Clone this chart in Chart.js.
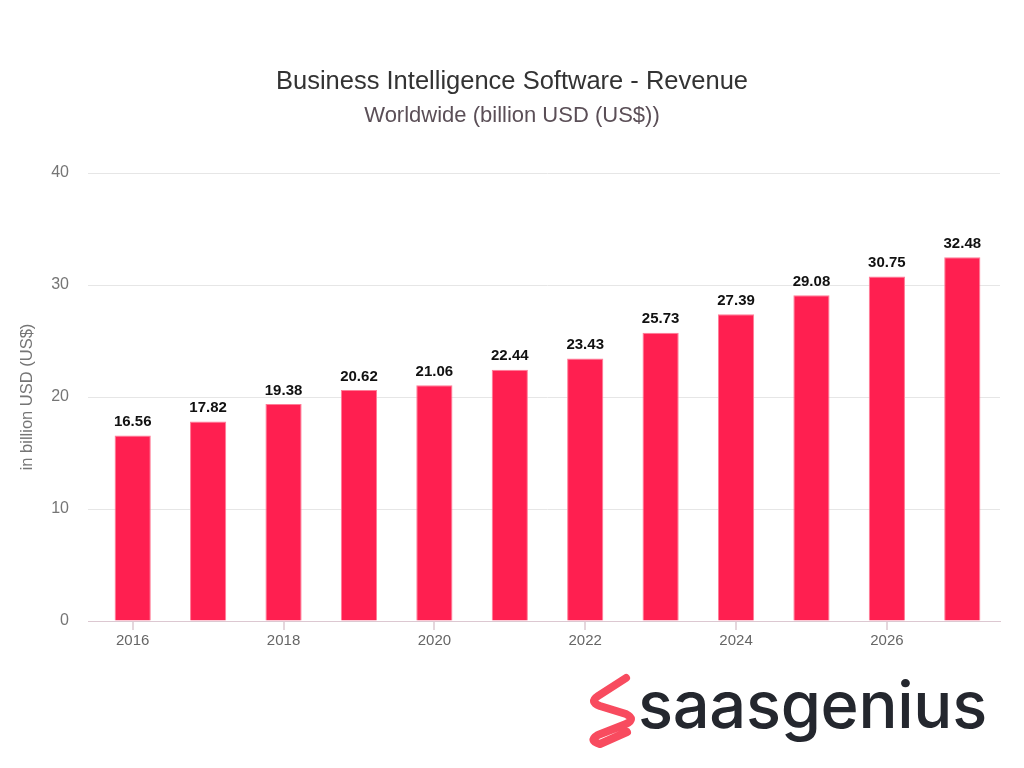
<!DOCTYPE html>
<html>
<head>
<meta charset="utf-8">
<script src="https://cdn.jsdelivr.net/npm/chart.js@4"></script>
<style>
  html, body { margin: 0; padding: 0; background: #fff; }
  #wrap { position: relative; width: 1024px; height: 768px; font-family: "Liberation Sans", Arial, sans-serif; }
  #chart { position: absolute; left: 0; top: 0; }
  .title { position: absolute; left: 0; width: 1024px; text-align: center; line-height: 1; }
  #t1 { top: 68px; font-size: 25.5px; color: #333; }
  #t2 { top: 104px; font-size: 22px; color: #5b4f57; }
  #icon { position: absolute; left: 580px; top: 670px; }
  #logo { position: absolute; left: 638px; top: 665px; font-family: Inter, sans-serif; font-weight: 500; font-size: 65px; line-height: 80px; color: #24272e; letter-spacing: -0.3px; }
</style>
</head>
<body>
<div id="wrap">
  <canvas id="chart" width="1024" height="768"></canvas>
  <div class="title" id="t1">Business Intelligence Software - Revenue</div>
  <div class="title" id="t2">Worldwide (billion USD (US$))</div>
  <svg id="icon" width="60" height="84" viewBox="0 0 60 84">
    <path d="M46 8 L18 26 Q9 32 20 36 L46 44 Q56 49 46 54 L18 65 Q8 71 20 74 L47 62"
          fill="none" stroke="#f84b5f" stroke-width="8" stroke-linecap="round" stroke-linejoin="round"/>
  </svg>
  <div id="logo">saasgenius</div>
</div>
<script>
const years = ["2016", "2017", "2018", "2019", "2020", "2021", "2022", "2023", "2024", "2025", "2026", "2027"];
const revenue = [16.56, 17.82, 19.38, 20.62, 21.06, 22.44, 23.43, 25.73, 27.39, 29.08, 30.75, 32.48];
const yTicks = [0, 10, 20, 30, 40];

const FONT = "'Liberation Sans', Arial, sans-serif";
const AXIS = "#dcc8d1";

// value labels above bars
const valueLabels = {
  id: "valueLabels",
  afterDatasetsDraw(chart) {
    const ctx = chart.ctx;
    const meta = chart.getDatasetMeta(0);
    ctx.save();
    ctx.font = "bold 15px " + FONT;
    ctx.fillStyle = "#111";
    ctx.textAlign = "center";
    ctx.textBaseline = "bottom";
    meta.data.forEach((bar, i) => {
      ctx.fillText(revenue[i].toFixed(2), bar.x, bar.y - 6);
    });
    ctx.restore();
  }
};

// tick marks under the labelled years
const xTickMarks = {
  id: "xTickMarks",
  afterDraw(chart) {
    const ctx = chart.ctx;
    const x = chart.scales.x;
    const y0 = chart.chartArea.bottom;
    ctx.save();
    ctx.strokeStyle = AXIS;
    ctx.lineWidth = 1.5;
    years.forEach((yr, i) => {
      if (i % 2) return;
      const px = Math.round(x.getPixelForTick(i));
      ctx.beginPath();
      ctx.moveTo(px, y0);
      ctx.lineTo(px, y0 + 9);
      ctx.stroke();
    });
    ctx.restore();
  }
};

new Chart(document.getElementById("chart"), {
  type: "bar",
  data: {
    labels: years,
    datasets: [{
      data: revenue,
      backgroundColor: "#ff1f50",
      borderColor: "#ff7c97",
      borderWidth: 1,
      barPercentage: 0.48,
      categoryPercentage: 1
    }]
  },
  options: {
    responsive: false,
    animation: false,
    layout: { padding: { top: 173, right: 24, left: 0, bottom: 0 } },
    plugins: {
      legend: { display: false },
      tooltip: { enabled: false }
    },
    scales: {
      x: {
        afterFit: s => { s.height = 147; },
        grid: { display: false },
        border: { color: AXIS, width: 1 },
        ticks: {
          autoSkip: false,
          maxRotation: 0,
          padding: 3,
          color: "#666",
          font: { size: 15, family: FONT },
          callback: function (v, i) { return i % 2 === 0 ? years[i] : ""; }
        }
      },
      y: {
        min: 0,
        max: 40,
        afterFit: s => { s.width = 95; },
        afterBuildTicks: s => { s.ticks = yTicks.map(v => ({ value: v })); },
        grid: {
          color: c => (c.tick && c.tick.value === 0 ? AXIS : "#e6e6e6"),
          tickLength: 7,
          drawTicks: true
        },
        border: { display: false },
        ticks: {
          padding: 19,
          color: "#757575",
          font: { size: 16, family: FONT }
        },
        title: {
          display: true,
          text: "in billion USD (US$)",
          color: "#757575",
          font: { size: 16.5, family: FONT },
          padding: { top: 18, bottom: 0 }
        }
      }
    }
  },
  plugins: [valueLabels, xTickMarks]
});
</script>
</body>
</html>
